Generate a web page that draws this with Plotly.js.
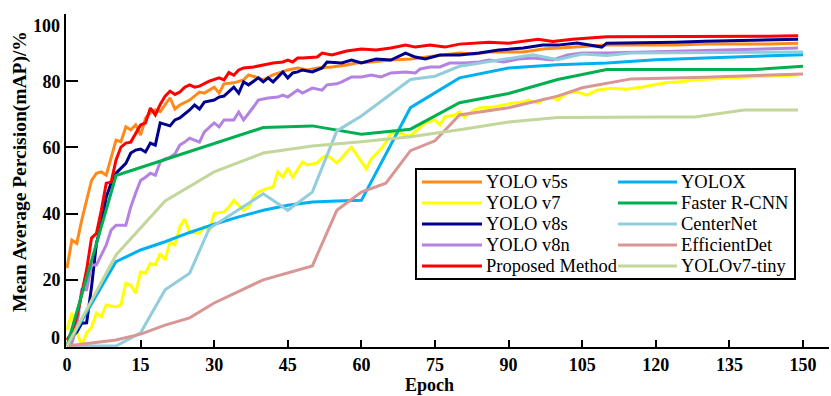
<!DOCTYPE html>
<html><head><meta charset="utf-8">
<script src="https://cdn.plot.ly/plotly-3.0.1.min.js"></script>
<style>html,body{margin:0;padding:0;background:#fff}#chart{width:831px;height:396px}</style>
</head><body><div id="chart"></div>
<script>
// ---- data ----
const v5sX = [0,1,2,3,5,6,7,8,10,11,12,13,14,15,16,17,18,19,21,22,23,25,27,28,30,31,32,34,36,37,39,40,42,44,45,47,49,51,54,57,59,62,66,70,73,77,80,83,86,90,93,97,100,105,110,117,124,130,137,143,149];
const v5sY = [23.5,32,31,38,50,52.2,52.6,51.6,62.2,61.7,66.2,65.3,66.8,63.7,68.8,70.5,71.3,70.8,75,71.6,72.8,74.3,76.7,76.4,78.2,76.4,79.2,79.5,80.4,81.9,81,80.4,81.9,82.8,83.4,84,83.4,84,84.3,84.9,85.5,85.8,86.4,86.7,87.3,87.9,88.5,88.2,88.8,88.8,88.8,89.7,90,90.3,90.9,90.9,90.9,91.2,91.2,91.2,91.5];

const v7X = [0,1,2,3,4,5,6,7,8,10,11,12,13,14,15,16,17,18,19,20,21,22,23,24,25,27,28,29,30,32,33,34,36,37,38,39,41,42,43,44,45,46,48,49,51,52,53,55,56,57,58,60,61,62,64,65,66,68,69,70,72,73,75,76,77,79,80,81,83,84,87,89,91,93,94,96,97,99,100,102,104,106,108,111,114,117,120,122,125,128,131,135,137,141,144,149];
const v7Y = [4.8,10,4.2,0.3,3.9,5.7,10,8.8,12.4,11.8,12.4,19,18.4,16,22.4,22,25,24.5,28,26,31.4,30.5,36,38.4,34.4,34,36,35,40,40.5,42,44,41,42,45,46.5,47.7,48,52.6,51,53.8,51,55.6,54.7,55.3,56.8,57.7,55.3,56.8,58.6,60,55.6,53.5,56.5,59.5,61.6,64.3,64.3,63.7,63.4,66.2,67.4,68.3,66.8,69.2,69.8,70.7,69.2,71.3,71.9,72.2,72.8,73.4,73.7,74.3,73.4,74.6,75,74.3,76.4,76.7,75.8,77.3,77.9,77.6,78.2,78.9,79.5,79.8,80.4,80.7,81,81.3,81.6,81.6,81.9];

const v8sX = [0,1,2,3,4,5,6,7,8,9,10,12,13,14,15,16,17,18,19,21,22,23,25,26,27,28,30,31,32,34,35,36,37,39,40,41,42,44,45,46,47,48,50,52,53,56,58,60,63,66,69,71,73,76,80,84,88,93,97,100,104,109,110,117,124,130,137,143,149];
const v8sY = [0,2.7,4.2,6.9,7,17.8,31,37,45,49.2,52.2,55.2,58.3,59.2,59.5,58.6,61.3,60.7,67.4,66.5,68.3,68.9,71.3,72.8,71.6,73.7,74.3,75.2,75.5,78.2,76.4,79.8,78.9,81,79.8,81,79.8,82.8,81,82.5,82.8,83.4,82.8,84,85.8,85.5,86.4,85.5,86.7,86.4,88.5,87.3,86.7,87.9,87.9,88.5,89.4,90,90.9,90.9,91.5,90.3,91.5,91.6,91.8,92.1,92.4,92.5,92.7];

const v8nX = [0,1,2,3,4,5,6,8,9,10,12,13,14,15,16,17,18,19,20,21,22,23,24,25,27,28,30,31,32,34,35,36,38,39,41,43,44,45,47,48,50,52,53,55,56,58,60,62,64,66,69,71,72,74,76,78,81,84,86,89,92,95,97,99,102,105,110,117,124,132,137,149];
const v8nY = [0,1,5.7,17,17,24.5,24.5,30.5,35,36.5,36.5,42,46.2,50,51,52.2,51.6,55.6,56.5,57,58,60.7,61.6,62.8,61.6,64.7,67.4,66.2,68.3,68.3,70.7,68.3,72.2,74.3,74.9,75.2,75.8,75.2,77.3,76.4,77.9,77.3,78.9,79.2,79.8,81.3,81.3,81.9,81.3,82.5,82.8,82.5,83.7,84.3,84.3,85.5,85.5,85.8,86.4,85.8,86.7,87,86.7,86.4,87.9,88.5,88.5,88.8,89.1,89.4,89.7,90];

const propX = [0,1,2,3,4,5,6,7,8,9,10,11,12,13,14,15,16,17,18,19,20,21,22,23,24,25,26,27,29,30,31,32,33,34,35,36,38,40,42,44,45,46,47,48,51,52,54,57,60,63,66,69,71,74,77,80,83,86,90,93,96,99,103,110,117,124,130,137,143,149];
const propY = [1.8,4.2,8.8,16,23,32.6,34,41,49.2,49.5,56.2,60.1,61.3,61.6,64.3,66.8,67.4,71.9,69.8,73,75.5,77,76,76.7,78.2,78.9,78.2,78.5,80,80.6,81,80.4,82.6,81.8,83.4,84,84.3,84.9,85.5,85.8,86.4,85.8,87,87,87.3,88.5,87.9,89.1,89.7,89.4,90,90.9,90.3,90.9,90.3,91.2,91.5,91.8,91.5,92.1,92.7,92,92.7,93.4,93.4,93.4,93.5,93.4,93.6,93.7];

const yoloxX = [0,10,15,20,25,30,35,40,45,50,55,60,70,80,90,100,110,120,130,140,150];
const yoloxY = [0,25.5,29,31.5,34.3,36.8,39,41,42.5,43.5,43.8,44,72,81,84,85,85.5,86.5,87,87.5,88];

const frcnnX = [0,10,40,50,60,70,80,90,100,110,120,130,140,150];
const frcnnY = [0,51.5,66,66.5,64,65.5,73.5,76.3,80.5,83.5,83.5,83.5,83.5,84.5];

const centerX = [0,10,15,20,25,29,40,45,50,55,60,70,75,80,95,100,105,110,115,130,150];
const centerY = [0,0,4,17,22,35.5,46,41,46.5,65,69.5,80.5,81.5,84.5,88,86.5,88.2,87.8,88.5,88.6,88.8];

const effX = [0,10,15,20,25,30,40,50,55,60,65,70,75,80,90,100,105,115,130,150];
const effY = [0,1.8,3.6,6.3,8.5,13,20,24.2,41,46.5,49.2,59,62,69.8,72,75.5,78,80.7,81.2,82.2];

const tinyX = [0,10,20,30,40,50,60,70,80,90,100,110,120,128,138,149];
const tinyY = [0,27.5,43.8,52.6,58.3,60.4,61.7,63.2,65.3,67.7,69,69.2,69.2,69.2,71.3,71.3];

const xTicks = [0,15,30,45,60,75,90,105,120,135,150];
const yTicks = [0,20,40,60,80,100];

const names = ['YOLO v5s','YOLO v7','YOLO v8s','YOLO v8n','Proposed Method','YOLOX','Faster R-CNN','CenterNet','EfficientDet','YOLOv7-tiny'];
const colors = ['#FF8A1A','#FFFF00','#00008F','#B482E0','#FF0000','#00B0F0','#00B050','#92CDDC','#D99694','#C3D69B'];
const xs = [v5sX,v7X,v8sX,v8nX,propX,yoloxX,frcnnX,centerX,effX,tinyX];
const ys = [v5sY,v7Y,v8sY,v8nY,propY,yoloxY,frcnnY,centerY,effY,tinyY];

// ---- figure ----
const serif = 'Liberation Serif, Times New Roman, serif';
const L = 66, R = 2, T = 14, B = 49, W = 831, H = 396;
const pw = W - L - R, ph = H - T - B;
const fx = px => (px - L) / pw;
const fy = py => (H - B - py) / ph;

const traces = names.map((n, i) => ({
  type: 'scatter', mode: 'lines', name: n, x: xs[i], y: ys[i],
  line: {color: colors[i], width: 3}, hoverinfo: 'skip'
}));

const shapes = [];
const annotations = [];
// legend box
shapes.push({type:'rect', xref:'paper', yref:'paper', x0: fx(416), x1: fx(795), y0: fy(279), y1: fy(169), line:{color:'#000', width:2}, fillcolor:'rgba(255,255,255,1)', layer:'above'});
names.forEach((n, i) => {
  const col = i < 5 ? 0 : 1, row = i % 5;
  const py = 182 + row * 21;
  const lx0 = col ? 618 : 422, lx1 = col ? 677 : 482, tx = col ? 679 : 484;
  shapes.push({type:'line', xref:'paper', yref:'paper', x0: fx(lx0), x1: fx(lx1), y0: fy(py), y1: fy(py), line:{color: colors[i], width: 3}, layer:'above'});
  annotations.push({xref:'paper', yref:'paper', x: fx(tx), y: fy(py), xanchor:'left', yanchor:'middle', text: n, showarrow:false, font:{family: serif, size: 18.5, color:'#000'}});
});
// y tick labels at the ends
annotations.push({xref:'paper', yref:'y', x:0, y:2.4, xanchor:'right', yanchor:'middle', xshift:-4, text:'<b>0</b>', showarrow:false, font:{family:serif, size:18, color:'#000'}});
annotations.push({xref:'paper', yref:'y', x:0, y:96.7, xanchor:'right', yanchor:'middle', xshift:-4, text:'<b>100</b>', showarrow:false, font:{family:serif, size:18, color:'#000'}});
// axis titles
annotations.push({xref:'paper', yref:'paper', x: fx(20), y: fy(172), xanchor:'center', yanchor:'middle', textangle:-90, text:'<b>Mean Average Percision(mAP)/%</b>', showarrow:false, font:{family:serif, size:19.5, color:'#000'}});
annotations.push({xref:'paper', yref:'paper', x: fx(429), y: fy(384.5), xanchor:'center', yanchor:'middle', text:'<b>Epoch</b>', showarrow:false, font:{family:serif, size:18, color:'#000'}});

const layout = {
  width: W, height: H,
  margin: {l: L, r: R, t: T, b: B, pad: 0},
  paper_bgcolor: '#fff', plot_bgcolor: '#fff',
  showlegend: false,
  xaxis: {
    range: [-0.2, 155.3], tickvals: xTicks, ticktext: xTicks.map(String),
    ticks: 'inside', ticklen: 7, tickwidth: 2, tickcolor: '#000',
    showline: true, linewidth: 2, linecolor: '#000', showgrid: false, zeroline: false,
    tickfont: {family: serif, size: 18, color: '#000', weight: 'bold'}
  },
  yaxis: {
    range: [-0.3, 100.3], tickvals: yTicks, ticktext: yTicks.map(v => (v === 0 || v === 100) ? '' : String(v)),
    ticks: 'inside', ticklen: 12, tickwidth: 2, tickcolor: '#000',
    showline: true, linewidth: 2, linecolor: '#000', showgrid: false, zeroline: false,
    tickfont: {family: serif, size: 18, color: '#000', weight: 'bold'}
  },
  shapes: shapes, annotations: annotations
};
Plotly.newPlot('chart', traces, layout, {staticPlot: true, displayModeBar: false});
</script>
</body></html>
